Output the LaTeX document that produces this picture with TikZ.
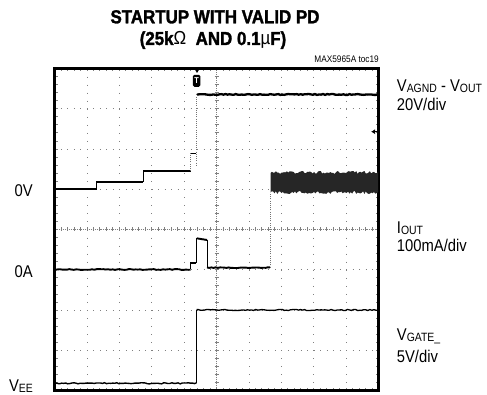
\documentclass[tikz,border=0pt]{standalone}
\usepackage{fontspec}
\setmainfont{Liberation Sans}[FakeStretch=0.87]
\newfontfamily\titlefont{Liberation Sans}[FakeStretch=0.9, BoldFeatures={FakeBold=1.6}]
\usetikzlibrary{arrows.meta}
\newcommand\trsub[1]{\raisebox{-1pt}{\fontsize{12}{12}\selectfont #1}}
\tikzset{
  grid/.style={black!50, line width=0.8pt},
  trace/.style={black, line width=1.9pt},
  riser/.style={black, line width=0.7pt},
  fast/.style={black!55, line width=0.6pt, dash pattern=on 1pt off 1.2pt},
  lbl/.style={font=\fontsize{17}{18}\selectfont, inner sep=0pt},
  ttl/.style={font=\titlefont\bfseries\fontsize{18.8}{20}\selectfont, inner sep=0pt, anchor=base}
}
\begin{document}
\begin{tikzpicture}[x=1pt, y=-1pt]
  \useasboundingbox (0,0) rectangle (487,395);
  \pgfmathsetseed{11}
  % title
  \node[ttl] (title1) at (215,23.3) {STARTUP WITH VALID PD};
  \node[ttl] (title2) at (213,45) {(25k{\mdseries Ω}\ \ AND 0.1{\mdseries µ}F)};
  \node[font=\fontsize{9.5}{10}\selectfont, inner sep=0pt, anchor=base east] (tocnote) at (379,62.5) {MAX5965A toc19};
  % grid
  \foreach \i in {1,...,9}
    \draw[grid, dash pattern=on 1pt off 7.05pt] ({54.5+32.4*\i},68.5) -- ({54.5+32.4*\i},390.5);
  \foreach \j in {1,...,7}
    \draw[grid, dash pattern=on 1pt off 5.48pt] (54.5,{68.5+40.25*\j}) -- (378.5,{68.5+40.25*\j});
  \draw[grid, dash pattern=on 1pt off 1pt] (216.5,68.5) -- (216.5,390.5);
  \draw[grid, dash pattern=on 1pt off 1pt] (54.5,229.5) -- (378.5,229.5);
  \foreach \k in {1,...,49} {
    \draw[grid] ({54.5+6.48*\k},68.5) -- ++(0,3);
    \draw[grid] ({54.5+6.48*\k},390.5) -- ++(0,-3);
    \draw[grid] ({54.5+6.48*\k},227.5) -- ++(0,4);
  }
  \foreach \k in {1,...,39} {
    \draw[grid] (54.5,{68.5+8.05*\k}) -- ++(3,0);
    \draw[grid] (378.5,{68.5+8.05*\k}) -- ++(-3,0);
    \draw[grid] (214.5,{68.5+8.05*\k}) -- ++(4,0);
  }
  % frame
  \draw[line width=2.4pt] (54.5,68.5) rectangle (378.5,390.5);
  % trigger and channel marker
  \fill (194.3,68.5) -- (199.7,68.5) -- (197,73) -- cycle;
  \node[fill=black, text=white, rounded corners=1.5pt, inner sep=0.6pt, minimum width=7.5pt, minimum height=12pt,
    font=\bfseries\fontsize{8.5}{8}\selectfont] (trig) at (196.7,80.8) {T};
  \draw[-{Latex[length=4pt,width=5pt]}, line width=1.2pt] (378,131.7) -- (371,131.7);
  % VAGND - VOUT
  \draw[riser] (55.5,189.3) -- (96.7,189.3) -- (96.7,181.7) -- (143.3,181.7) -- (143.3,171.3) -- (190.5,171.3);
  \draw[trace] (55.5,189.3) -- (96.7,189.3) (96.7,181.7) -- (143.3,181.7) (143.3,171.3) -- (190.5,171.3);
  \draw[fast] (190.7,171.3) -- (190.7,153.5);
  \draw[trace] (190.5,153.5) -- (195.5,153.5);
  \draw[fast] (196.2,94.5) -- (196.2,167);
  \draw[trace, line width=2.3pt] plot[domain=197:378, samples=90] (\x,{94.5+0.5*rand});
  % IOUT
  \draw[trace] plot[domain=55.5:190.5, samples=60] (\x,{269.5+0.4*rand});
  \draw[riser] (190.5,269.5) -- (190.5,262.8) -- (195.5,262.8);
  \draw[trace] (190.5,262.8) -- (195.5,262.8);
  \draw[riser] (196.7,262.8) -- (196.7,238.3);
  \draw[trace] (196.7,238.3) -- (207,240);
  \draw[riser] (207,240) -- (207,267.7);
  \draw[trace] plot[domain=207:270, samples=30] (\x,{267.7+0.4*rand});
  \draw[fast] (270.5,267.7) -- (270.5,193);
  \fill[black!85] (270.5,193) -- plot[domain=270.5:378, samples=80] (\x,{172.5+1.5*rand})
    -- plot[domain=378:270.5, samples=80] (\x,{192.5+1.5*rand}) -- cycle;
  % VGATE
  \draw[trace, line width=1.4pt] plot[domain=55.5:196.5, samples=70] (\x,{383.3+0.6*rand});
  \draw[riser] (196.5,383.3) -- (196.5,310);
  \draw[trace, line width=1.3pt] plot[domain=196.5:378, samples=90] (\x,{310+0.6*rand});
  % left labels
  \node[lbl, anchor=base east] (lbl0v) at (33,196.7) {0V};
  \node[lbl, anchor=base east] (lbl0a) at (33,278) {0A};
  \node[lbl, anchor=base east] (lblvee) at (33,391.5) {V\trsub{EE}};
  % right labels
  \node[lbl, anchor=base west] (lblvagnd) at (396.7,92) {V\trsub{AGND} - V\trsub{OUT}};
  \node[lbl, anchor=base west] (lblvagnddiv) at (396.7,110.3) {20V/div};
  \node[lbl, anchor=base west] (lbliout) at (396.7,233.3) {I\trsub{OUT}};
  \node[lbl, anchor=base west] (lblioutdiv) at (396.7,251.7) {100mA/div};
  \node[lbl, anchor=base west] (lblvgate) at (396.7,340.5) {V\trsub{GATE\_}};
  \node[lbl, anchor=base west] (lblvgatediv) at (396.7,362.7) {5V/div};
\end{tikzpicture}
\end{document}
